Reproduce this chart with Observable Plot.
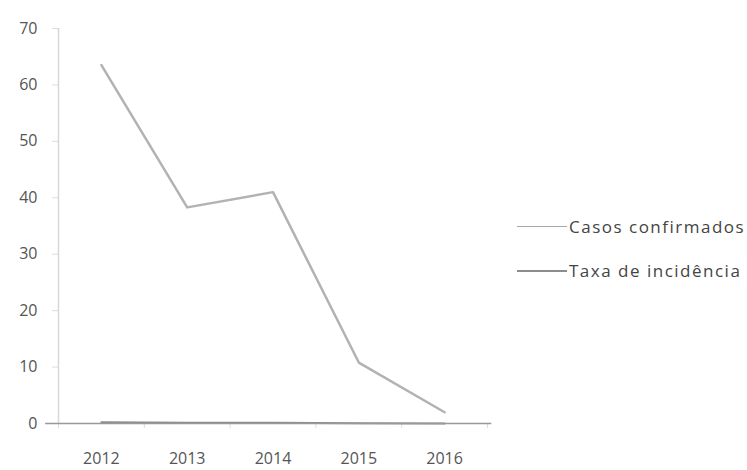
<!DOCTYPE html>
<html>
<head>
<meta charset="utf-8">
<script src="https://cdn.jsdelivr.net/npm/d3@7"></script>
<script src="https://cdn.jsdelivr.net/npm/@observablehq/plot@0.6"></script>
<style>
  html, body { margin: 0; padding: 0; background: #fff; }
  #wrap { position: relative; width: 747px; height: 470px; }
  .leg { position: absolute; left: 517px; font-family: "Open Sans", sans-serif; font-size: 17px; letter-spacing: 1.5px; color: #444; display: flex; align-items: center; white-space: nowrap; }
  .leg span.sw { display: inline-block; width: 50px; margin-right: 2px; }
</style>
</head>
<body>
<div id="wrap"></div>
<script>
const years = [2012, 2013, 2014, 2015, 2016];
const casosConfirmados = [63.5, 38.3, 41, 10.8, 2];
const taxaIncidencia = [0.2, 0.15, 0.15, 0.05, 0.02];
const yTicks = [0, 10, 20, 30, 40, 50, 60, 70];
const seriesNames = ["Casos confirmados", "Taxa de incidência"];
const seriesColors = ["#b2b2b2", "#8c8c8c"];
const seriesWidths = [2.5, 2];

const data = [];
years.forEach((yr, i) => {
  data.push({year: yr, value: casosConfirmados[i], series: seriesNames[0]});
  data.push({year: yr, value: taxaIncidencia[i], series: seriesNames[1]});
});
const boundaries = years.map(y => y - 0.5).concat([years[years.length - 1] + 0.5]);

const chart = Plot.plot({
  width: 747,
  height: 470,
  marginLeft: 58,
  marginRight: 260,
  marginTop: 28,
  marginBottom: 47,
  style: {fontFamily: "'Open Sans', sans-serif", fontSize: "16px", color: "#555", background: "#fff"},
  x: {type: "linear", domain: [years[0] - 0.5, years[years.length - 1] + 0.5]},
  y: {domain: [0, 70]},
  marks: [
    Plot.axisY({ticks: yTicks, tickSize: 6, tickPadding: 15, stroke: "#ddd", label: null, fontSize: 16, fill: "#555"}),
    Plot.ruleX([years[0] - 0.5], {stroke: "#d8d8d8", strokeWidth: 1.5}),
    Plot.axisX({ticks: boundaries, tickSize: 5, tickFormat: () => "", stroke: "#ddd", label: null}),
    Plot.axisX({ticks: years, tickSize: 0, tickPadding: 29, tickFormat: d => String(d), label: null, fontSize: 16, fill: "#555"}),
    Plot.line(data.filter(d => d.series === seriesNames[1]), {x: "year", y: "value", stroke: seriesColors[1], strokeWidth: seriesWidths[1]}),
    Plot.ruleY([0], {x1: years[0] - 0.65, x2: years[years.length - 1] + 0.55, stroke: "#999", strokeWidth: 1.5}),
    Plot.line(data.filter(d => d.series === seriesNames[0]), {x: "year", y: "value", stroke: seriesColors[0], strokeWidth: seriesWidths[0]})
  ]
});
const wrap = document.getElementById("wrap");
wrap.appendChild(chart);

const legTops = [215, 259];
seriesNames.forEach((name, i) => {
  const d = document.createElement("div");
  d.className = "leg";
  d.style.top = legTops[i] + "px";
  const sw = document.createElement("span");
  sw.className = "sw";
  sw.style.borderTop = (i === 0 ? 1.5 : 2.5) + "px solid " + (i === 0 ? "#a8a8a8" : "#8c8c8c");
  d.appendChild(sw);
  d.appendChild(document.createTextNode(name));
  wrap.appendChild(d);
});
</script>
</body>
</html>
